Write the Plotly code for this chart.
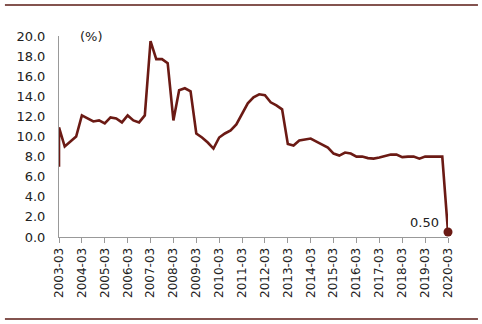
import plotly.graph_objects as go

# Quarterly series 2003-03 .. 2020-03; series opens at 7.0 on the first quarter
quarters = [f"{y}-{m:02d}" for y in range(2003, 2021) for m in (3, 6, 9, 12)][:69]
opening_value = 7.0
values = [10.9, 9.0, 9.5, 10.0, 12.1, 11.8, 11.5, 11.6, 11.3, 11.9, 11.8, 11.4,
          12.1, 11.6, 11.4, 12.1, 19.5, 17.7, 17.7, 17.3, 11.6, 14.6, 14.8, 14.5,
          10.3, 9.9, 9.4, 8.8, 9.9, 10.3, 10.6, 11.2, 12.3, 13.3, 13.9, 14.2,
          14.1, 13.4, 13.1, 12.7, 9.25, 9.1, 9.6, 9.7, 9.8, 9.5, 9.2, 8.9,
          8.3, 8.1, 8.4, 8.3, 8.0, 8.0, 7.85, 7.8, 7.9, 8.05, 8.2, 8.2,
          7.95, 8.0, 8.0, 7.8, 8.0, 8.0, 8.0, 8.0, 0.5]
tick_labels = [f"{y}-03" for y in range(2003, 2021)]
y_ticks = [0, 2, 4, 6, 8, 10, 12, 14, 16, 18, 20]
last_label = "0.50"

xs = list(range(len(quarters)))
tick_pos = [quarters.index(t) for t in tick_labels]
line_x = [xs[0]] + xs
line_y = [opening_value] + values

color = "#6B1A14"
fig = go.Figure()
fig.add_trace(go.Scatter(x=line_x, y=line_y, mode="lines",
                         line=dict(color=color, width=2.6), hoverinfo="skip"))
fig.add_trace(go.Scatter(x=[xs[-1]], y=[values[-1]], mode="markers",
                         marker=dict(color=color, size=9),
                         cliponaxis=False, hoverinfo="skip"))

fig.update_layout(
    width=482, height=324, showlegend=False,
    margin=dict(l=59, r=34, t=36, b=87),
    paper_bgcolor="white", plot_bgcolor="white",
    font=dict(family="DejaVu Sans", color="#222"),
    xaxis=dict(range=[0, tick_pos[-1]], tickmode="array", tickvals=tick_pos,
               ticktext=tick_labels, tickangle=-90, tickfont=dict(size=12),
               showgrid=False, zeroline=False, showline=True, linecolor="#999",
               linewidth=1, ticks="outside", ticklen=5, tickcolor="#999"),
    yaxis=dict(range=[0, 20], tickmode="array", tickvals=y_ticks,
               tickformat=".1f", tickfont=dict(size=13),
               showgrid=False, zeroline=False, showline=True, linecolor="#999",
               linewidth=1, ticks="", ticklabelstandoff=10),
    annotations=[dict(text="(%)", xref="paper", yref="paper", x=0.083, y=1.0,
                      xanchor="center", yanchor="middle", showarrow=False,
                      font=dict(size=13, color="#222")),
                 dict(text=last_label, x=xs[-1], y=values[-1], xref="x", yref="y",
                      xanchor="right", yanchor="bottom", xshift=-7, yshift=0,
                      showarrow=False, font=dict(size=13, color="#222"))],
    shapes=[dict(type="line", xref="paper", yref="paper",
                 x0=-0.139, x1=1.077, y0=1.154, y1=1.154,
                 line=dict(color="#5A1A14", width=1.5)),
            dict(type="line", xref="paper", yref="paper",
                 x0=-0.139, x1=1.077, y0=-0.408, y1=-0.408,
                 line=dict(color="#5A1A14", width=1.5))],
)
fig.write_html("out.html")
